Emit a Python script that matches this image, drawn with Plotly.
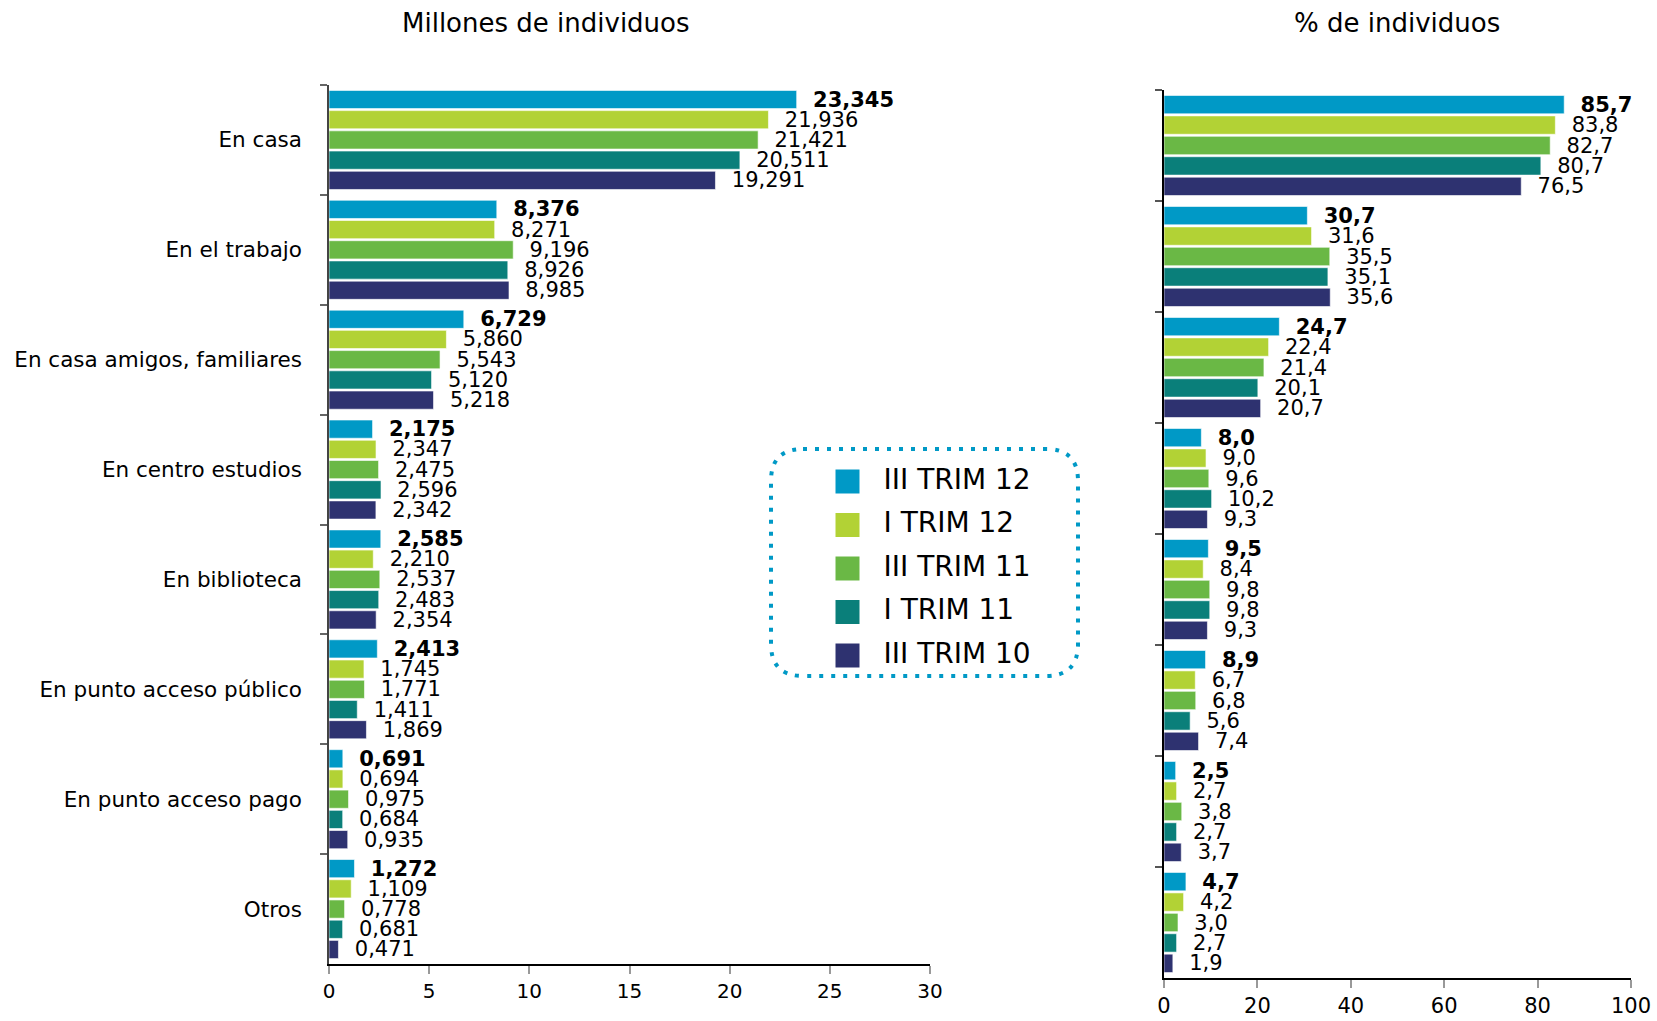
import plotly.graph_objects as go

categories = ["En casa", "En el trabajo", "En casa amigos, familiares", "En centro estudios",
              "En biblioteca", "En punto acceso público", "En punto acceso pago", "Otros"]
series_names = ["III TRIM 12", "I TRIM 12", "III TRIM 11", "I TRIM 11", "III TRIM 10"]
colors = ["#0099c6", "#b2d235", "#6ab845", "#0a7f7a", "#2e3270"]

millones_III12 = [23.345, 8.376, 6.729, 2.175, 2.585, 2.413, 0.691, 1.272]
millones_I12 = [21.936, 8.271, 5.860, 2.347, 2.210, 1.745, 0.694, 1.109]
millones_III11 = [21.421, 9.196, 5.543, 2.475, 2.537, 1.771, 0.975, 0.778]
millones_I11 = [20.511, 8.926, 5.120, 2.596, 2.483, 1.411, 0.684, 0.681]
millones_III10 = [19.291, 8.985, 5.218, 2.342, 2.354, 1.869, 0.935, 0.471]

pct_III12 = [85.7, 30.7, 24.7, 8.0, 9.5, 8.9, 2.5, 4.7]
pct_I12 = [83.8, 31.6, 22.4, 9.0, 8.4, 6.7, 2.7, 4.2]
pct_III11 = [82.7, 35.5, 21.4, 9.6, 9.8, 6.8, 3.8, 3.0]
pct_I11 = [80.7, 35.1, 20.1, 10.2, 9.8, 5.6, 2.7, 2.7]
pct_III10 = [76.5, 35.6, 20.7, 9.3, 9.3, 7.4, 3.7, 1.9]

left_ticks = [0, 5, 10, 15, 20, 25, 30]
right_ticks = [0, 20, 40, 60, 80, 100]

millones = [millones_III12, millones_I12, millones_III11, millones_I11, millones_III10]
pct = [pct_III12, pct_I12, pct_III11, pct_I11, pct_III10]

W, H = 1657, 1021
FONT = "Verdana, DejaVu Sans, sans-serif"


def px(xp):
    return xp / W


def py(yp):
    return 1 - yp / H


fig = go.Figure()
NB = "\u00a0\u00a0"
for i, name in enumerate(series_names):
    fmt_l = "%{x:.3f}"
    fmt_r = "%{x:.1f}"
    if i == 0:
        fmt_l = "<b>" + fmt_l + "</b>"
        fmt_r = "<b>" + fmt_r + "</b>"
    fig.add_trace(go.Bar(
        x=millones[i], y=categories, orientation="h", name=name,
        marker=dict(color=colors[i], line=dict(color="rgba(255,255,255,0.6)", width=1)),
        texttemplate=NB + fmt_l, textposition="outside", cliponaxis=False,
        constraintext="none", textfont=dict(size=21, color="black", family=FONT),
        xaxis="x", yaxis="y", showlegend=False, hoverinfo="x+name",
    ))
    fig.add_trace(go.Bar(
        x=pct[i], y=categories, orientation="h", name=name,
        marker=dict(color=colors[i], line=dict(color="rgba(255,255,255,0.6)", width=1)),
        texttemplate=NB + fmt_r, textposition="outside", cliponaxis=False,
        constraintext="none", textfont=dict(size=21, color="black", family=FONT),
        xaxis="x2", yaxis="y2", showlegend=False, hoverinfo="x+name",
    ))

# Legend drawn as markers + labels on a hidden axis pair
fig.add_trace(go.Scatter(
    x=[0] * len(series_names), y=series_names, mode="markers",
    marker=dict(symbol="square", size=24, color=colors, line=dict(width=0)),
    xaxis="x3", yaxis="y3", showlegend=False, hoverinfo="skip", cliponaxis=False,
))
fig.add_trace(go.Scatter(
    x=[1] * len(series_names), y=series_names, mode="text", text=series_names,
    textposition="middle right", textfont=dict(size=28, color="black", family=FONT),
    xaxis="x3", yaxis="y3", showlegend=False, hoverinfo="skip", cliponaxis=False,
))

axis_common = dict(showgrid=False, zeroline=False)
hidden = dict(visible=False, showgrid=False, zeroline=False, fixedrange=True)

# legend frame box in pixels
LX0, LX1, LY0, LY1 = 771, 1078, 449, 676
sq_x, txt_x = 847.5, 883.5
unit_x = txt_x - sq_x
row0, row_step = 481.5, 43.5

fig.update_layout(
    width=W, height=H,
    margin=dict(l=0, r=0, t=0, b=0, autoexpand=False),
    paper_bgcolor="white", plot_bgcolor="white",
    barmode="group", bargap=0.08, bargroupgap=0.1,
    separators=",.",
    font=dict(family=FONT, color="black", size=20),
    xaxis=dict(domain=[px(329), px(930)], range=[0, 30], tickvals=left_ticks,
               showline=True, linecolor="black", linewidth=1.5,
               ticks="outside", ticklen=8, tickcolor="#999", tickwidth=1.5,
               tickfont=dict(size=20), anchor="y", **axis_common),
    yaxis=dict(domain=[py(964), py(85)], autorange="reversed", type="category",
               showline=True, linecolor="#444", linewidth=1.5,
               ticks="outside", tickson="boundaries", ticklen=7, tickcolor="#666", tickwidth=1.5,
               tickfont=dict(size=21.5), ticklabelstandoff=21, anchor="x", **axis_common),
    xaxis2=dict(domain=[px(1164), px(1631)], range=[0, 100], tickvals=right_ticks,
                showline=True, linecolor="black", linewidth=1.5,
                ticks="outside", ticklen=8, tickcolor="#999", tickwidth=1.5,
                tickfont=dict(size=21), anchor="y2", **axis_common),
    yaxis2=dict(domain=[py(978), py(90)], autorange="reversed", type="category",
                showline=True, linecolor="black", linewidth=1.5,
                ticks="outside", tickson="boundaries", ticklen=7, tickcolor="#555", tickwidth=1.5,
                showticklabels=False, anchor="x2", **axis_common),
    xaxis3=dict(domain=[px(LX0), px(LX1)],
                range=[(LX0 - sq_x) / unit_x, (LX1 - sq_x) / unit_x], anchor="y3", **hidden),
    yaxis3=dict(domain=[py(LY1), py(LY0)], type="category",
                range=[(LY1 - row0) / row_step, (LY0 - row0) / row_step], anchor="x3", **hidden),
    showlegend=False,
)

fig.add_annotation(text="Millones de individuos", x=px(546), y=py(23), xref="paper", yref="paper",
                   showarrow=False, font=dict(size=26, color="black"), xanchor="center", yanchor="middle")
fig.add_annotation(text="% de individuos", x=px(1397), y=py(23), xref="paper", yref="paper",
                   showarrow=False, font=dict(size=26, color="black"), xanchor="center", yanchor="middle")

# Dotted rounded frame around the legend
r = 32
pts = [
    f"M {px(LX0 + r)},{py(LY0)}",
    f"L {px(LX1 - r)},{py(LY0)}",
    f"Q {px(LX1)},{py(LY0)} {px(LX1)},{py(LY0 + r)}",
    f"L {px(LX1)},{py(LY1 - r)}",
    f"Q {px(LX1)},{py(LY1)} {px(LX1 - r)},{py(LY1)}",
    f"L {px(LX0 + r)},{py(LY1)}",
    f"Q {px(LX0)},{py(LY1)} {px(LX0)},{py(LY1 - r)}",
    f"L {px(LX0)},{py(LY0 + r)}",
    f"Q {px(LX0)},{py(LY0)} {px(LX0 + r)},{py(LY0)}",
    "Z",
]
fig.add_shape(type="path", path=" ".join(pts), xref="paper", yref="paper",
              line=dict(color="#0099c6", width=4, dash="4px,8px"), fillcolor="rgba(0,0,0,0)")

fig.write_html("out.html", config={"displayModeBar": False},
               post_script="document.body.style.margin='0px';")
